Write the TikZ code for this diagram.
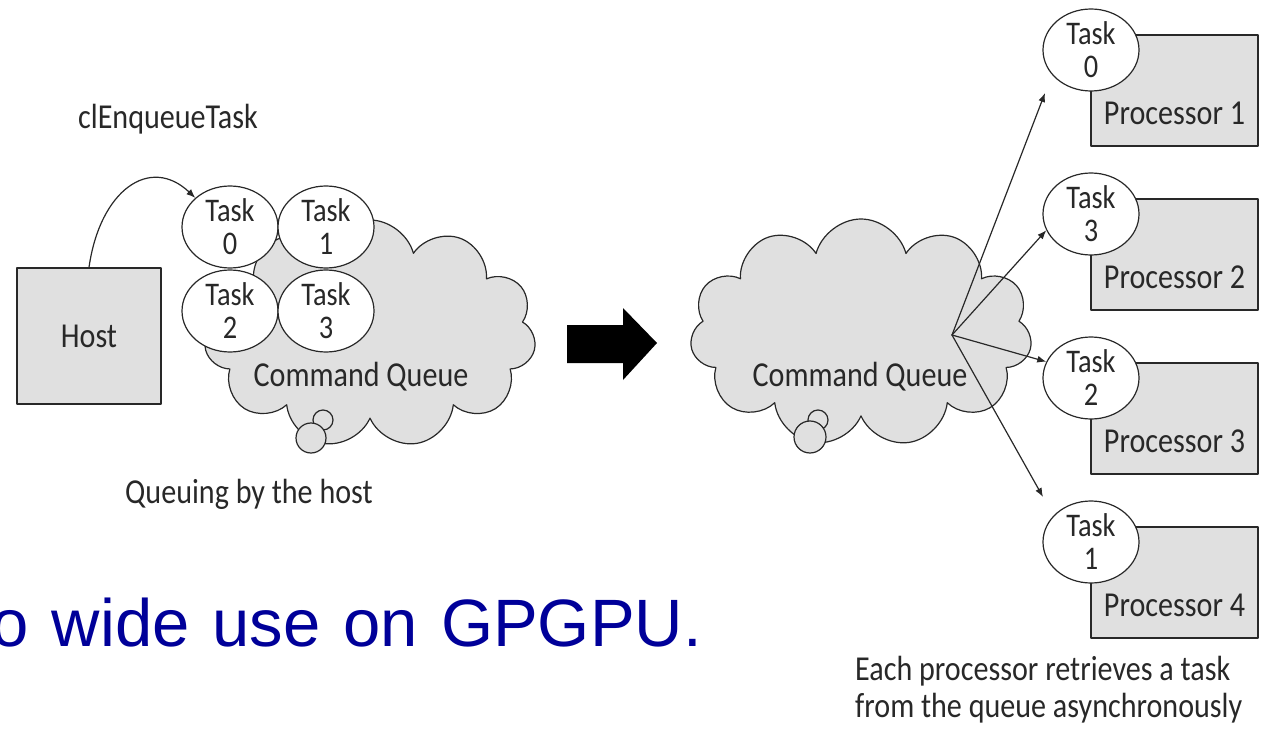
\documentclass[tikz,border=0pt]{standalone}
\usepackage{fontspec}
\usetikzlibrary{shapes.geometric,shapes.symbols,arrows.meta}
\newfontfamily\diagfont[FakeStretch=0.86]{Carlito}
\newfontfamily\slidefont{Liberation Sans}
\definecolor{boxgray}{RGB}{224,224,224}
\definecolor{edgegray}{RGB}{40,40,40}
\definecolor{slideblue}{RGB}{0,0,153}
\begin{document}
\begin{tikzpicture}[x=1pt, y=-1pt, line join=round, line cap=round, >={Latex[length=9pt,width=7pt]},
	every node/.style={font=\diagfont\fontsize{35}{31}\selectfont, text=edgegray},
	graybox/.style={draw=edgegray, fill=boxgray, line width=1.2pt, inner sep=0pt},
	taskell/.style={ellipse, draw=edgegray, fill=white, line width=1.2pt, minimum width=96pt, minimum height=82pt, inner sep=0pt, align=center, font=\diagfont\fontsize{33}{33}\selectfont},
	queue/.style={cloud, cloud puffs=11, cloud ignores aspect, draw=edgegray, fill=boxgray, line width=1.2pt, inner sep=0pt},
	bubble/.style={circle, draw=edgegray, fill=boxgray, line width=1.2pt, inner sep=0pt},
	link/.style={->, draw=edgegray, line width=1.2pt}]
	\useasboundingbox (0,0) rectangle (1270,741);
	% host puts the tasks into the queue
	\node[graybox, minimum width=144pt, minimum height=136pt] (host) at (89,336) {Host};
	\node[queue, minimum width=332pt, minimum height=228pt] (cq1) at (370,334) {};
	\node (cq1txt) at (361,377) {Command Queue};
	\node[bubble, minimum size=20pt] (b1s) at (323,420) {};
	\node[bubble, minimum size=30pt] (b1l) at (311,438) {};
	\foreach \n/\x/\y in {0/230/227,1/326/227,2/230/311,3/326/311}
		\node[taskell] (t\n) at (\x,\y) {Task\\\n};
	\draw[link] (host.north) .. controls (100,190) and (150,155) .. (t0.140);
	\node[anchor=base] (enq) at (168,129) {clEnqueueTask};
	\node[anchor=base] (qhost) at (249,503) {Queuing by the host};
	% big arrow
	\fill[black] (567,325)--(623,325)--(623,308)--(657,343)--(623,380)--(623,363)--(567,363)--cycle;
	% processors take the tasks
	\node[queue, minimum width=342pt, minimum height=228pt] (cq2) at (861,333) {};
	\node (cq2txt) at (860,377) {Command Queue};
	\node[bubble, minimum size=20pt] (b2s) at (818,420) {};
	\node[bubble, minimum size=32pt] (b2l) at (810,437) {};
	\coordinate (fan) at (952,335);
	\foreach \i/\t/\y in {1/0/35,2/3/199,3/2/363,4/1/527}{
		\node[graybox, minimum width=167pt, minimum height=111pt] (p\i) at (1174.5,\y+55.5) {};
		\node[anchor=base] (pt\i) at ([yshift=22pt]p\i.south) {Processor \i};
		\node[taskell] (r\t) at (1091,\y+15) {Task\\\t};
	}
	\draw[link] (fan) -- ([shift={(-46,43)}]r0.center);
	\draw[link] (fan) -- (r3.200);
	\draw[link] (fan) -- (r2.160);
	\draw[link] (fan) -- ([shift={(-48,-45)}]r1.center);
	\node[anchor=base west, align=left, inner sep=0pt, font=\diagfont\fontsize{35}{37}\selectfont] (each) at (855,717) {Each processor retrieves a task\\from the queue asynchronously};
	\node[anchor=base east, inner sep=0pt, font=\slidefont\fontsize{67}{80}\selectfont, text=slideblue] (slide) at (702,646) {\spaceskip=23pt o wide use on GPGPU.};
\end{tikzpicture}
\end{document}
